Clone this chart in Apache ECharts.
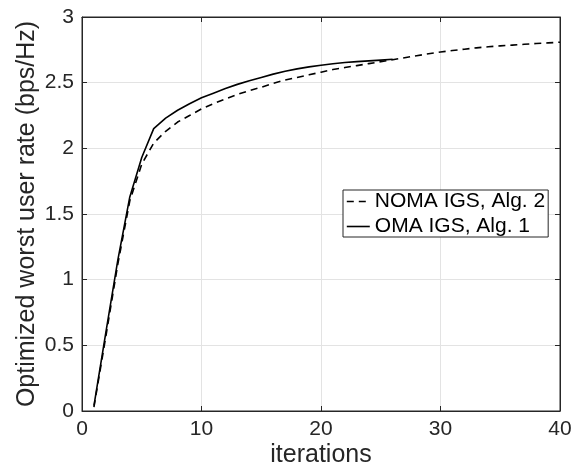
<!DOCTYPE html>
<html><head><meta charset="utf-8">
<script src="https://cdn.jsdelivr.net/npm/echarts@6/dist/echarts.min.js"></script>
<style>html,body{margin:0;padding:0;background:#fff}#c{width:578px;height:465px}</style>
</head><body><div id="c"></div>
<script>
// ---- data ----
const iterations = [1,2,3,4,5,6,7,8,9,10,11,12,13,14,15,16,17,18,19,20,
                    21,22,23,24,25,26,27,28,29,30,31,32,33,34,35,36,37,38,39,40];
const nomaRates = [0.03,0.57,1.12,1.60,1.88,2.04,2.13,2.20,2.25,2.30,
                   2.34,2.375,2.41,2.44,2.465,2.495,2.52,2.54,2.56,2.58,
                   2.60,2.615,2.63,2.645,2.66,2.675,2.69,2.705,2.72,2.733,
                   2.745,2.755,2.765,2.773,2.78,2.786,2.792,2.798,2.803,2.808];
const omaRates = [0.04,0.60,1.15,1.63,1.93,2.15,2.23,2.29,2.34,2.385,
                  2.42,2.455,2.487,2.515,2.54,2.565,2.587,2.605,2.62,2.633,
                  2.644,2.653,2.66,2.666,2.672,2.678];
const seriesNames = ['NOMA IGS, Alg. 2', 'OMA IGS, Alg. 1'];
const xTicks = [0,10,20,30,40];
const yTicks = [0,0.5,1,1.5,2,2.5,3];
const xTitle = 'iterations';
const yTitle = 'Optimized worst user rate (bps/Hz)';

const FONT = "'Liberation Sans', Arial, Helvetica, sans-serif";
const AX = '#262626';
const GRIDC = '#e3e3e3';

const pairs = (xs, ys) => ys.map((y, i) => [xs[i], y]);

const chart = echarts.init(document.getElementById('c'), null, {renderer: 'canvas'});

function mkX(pos, labels) {
  return {
    type: 'value', position: pos,
    min: xTicks[0], max: xTicks[xTicks.length - 1], interval: xTicks[1] - xTicks[0],
    name: labels ? xTitle : '', nameLocation: 'middle', nameGap: 32, nameMoveOverlap: false,
    nameTextStyle: {fontFamily: FONT, fontSize: 25, color: AX},
    axisLine: {show: true, onZero: false, lineStyle: {color: AX, width: 1}},
    axisTick: {show: true, inside: true, length: 5, lineStyle: {color: AX}},
    axisLabel: {show: labels, margin: 8, fontFamily: FONT, fontSize: 21, color: AX,
                showMinLabel: true, showMaxLabel: true},
    splitLine: {show: labels, lineStyle: {color: GRIDC, width: 1}}
  };
}
function mkY(pos, labels) {
  return {
    type: 'value', position: pos,
    min: yTicks[0], max: yTicks[yTicks.length - 1], interval: yTicks[1] - yTicks[0],
    name: labels ? yTitle : '', nameLocation: 'middle', nameGap: 42, nameMoveOverlap: false,
    nameTextStyle: {fontFamily: FONT, fontSize: 25, color: AX},
    axisLine: {show: true, onZero: false, lineStyle: {color: AX, width: 1}},
    axisTick: {show: true, inside: true, length: 5, lineStyle: {color: AX}},
    axisLabel: {show: labels, margin: 8, fontFamily: FONT, fontSize: 21, color: AX,
                showMinLabel: true, showMaxLabel: true},
    splitLine: {show: labels, lineStyle: {color: GRIDC, width: 1}}
  };
}

chart.setOption({
  animation: false,
  backgroundColor: '#fff',
  grid: {left: 82, right: 18, top: 17, bottom: 54, containLabel: false, outerBoundsMode: 'none',
         show: true, borderColor: AX, borderWidth: 1, backgroundColor: 'transparent'},
  xAxis: [mkX('bottom', true), mkX('top', false)],
  yAxis: [mkY('left', true), mkY('right', false)],
  legend: {
    orient: 'vertical', left: 343, top: 190,
    padding: [1, 3, 0, 3], itemGap: 4,
    itemWidth: 23, itemHeight: 14,
    backgroundColor: '#fff', borderColor: AX, borderWidth: 1, borderRadius: 0,
    textStyle: {fontFamily: FONT, fontSize: 21, color: '#000'},
    itemStyle: {opacity: 0, color: 'transparent', borderWidth: 0},
    lineStyle: {width: 1.6},
    data: seriesNames
  },
  series: [
    {name: seriesNames[0], type: 'line', xAxisIndex: 0, yAxisIndex: 0,
     data: pairs(iterations, nomaRates), symbol: 'none', showSymbol: false,
     lineStyle: {color: '#000', width: 1.6, type: [7, 5]}, itemStyle: {color: '#000'}},
    {name: seriesNames[1], type: 'line', xAxisIndex: 0, yAxisIndex: 0,
     data: pairs(iterations, omaRates), symbol: 'none', showSymbol: false,
     lineStyle: {color: '#000', width: 1.6, type: 'solid'}, itemStyle: {color: '#000'}}
  ]
});
</script></body></html>
